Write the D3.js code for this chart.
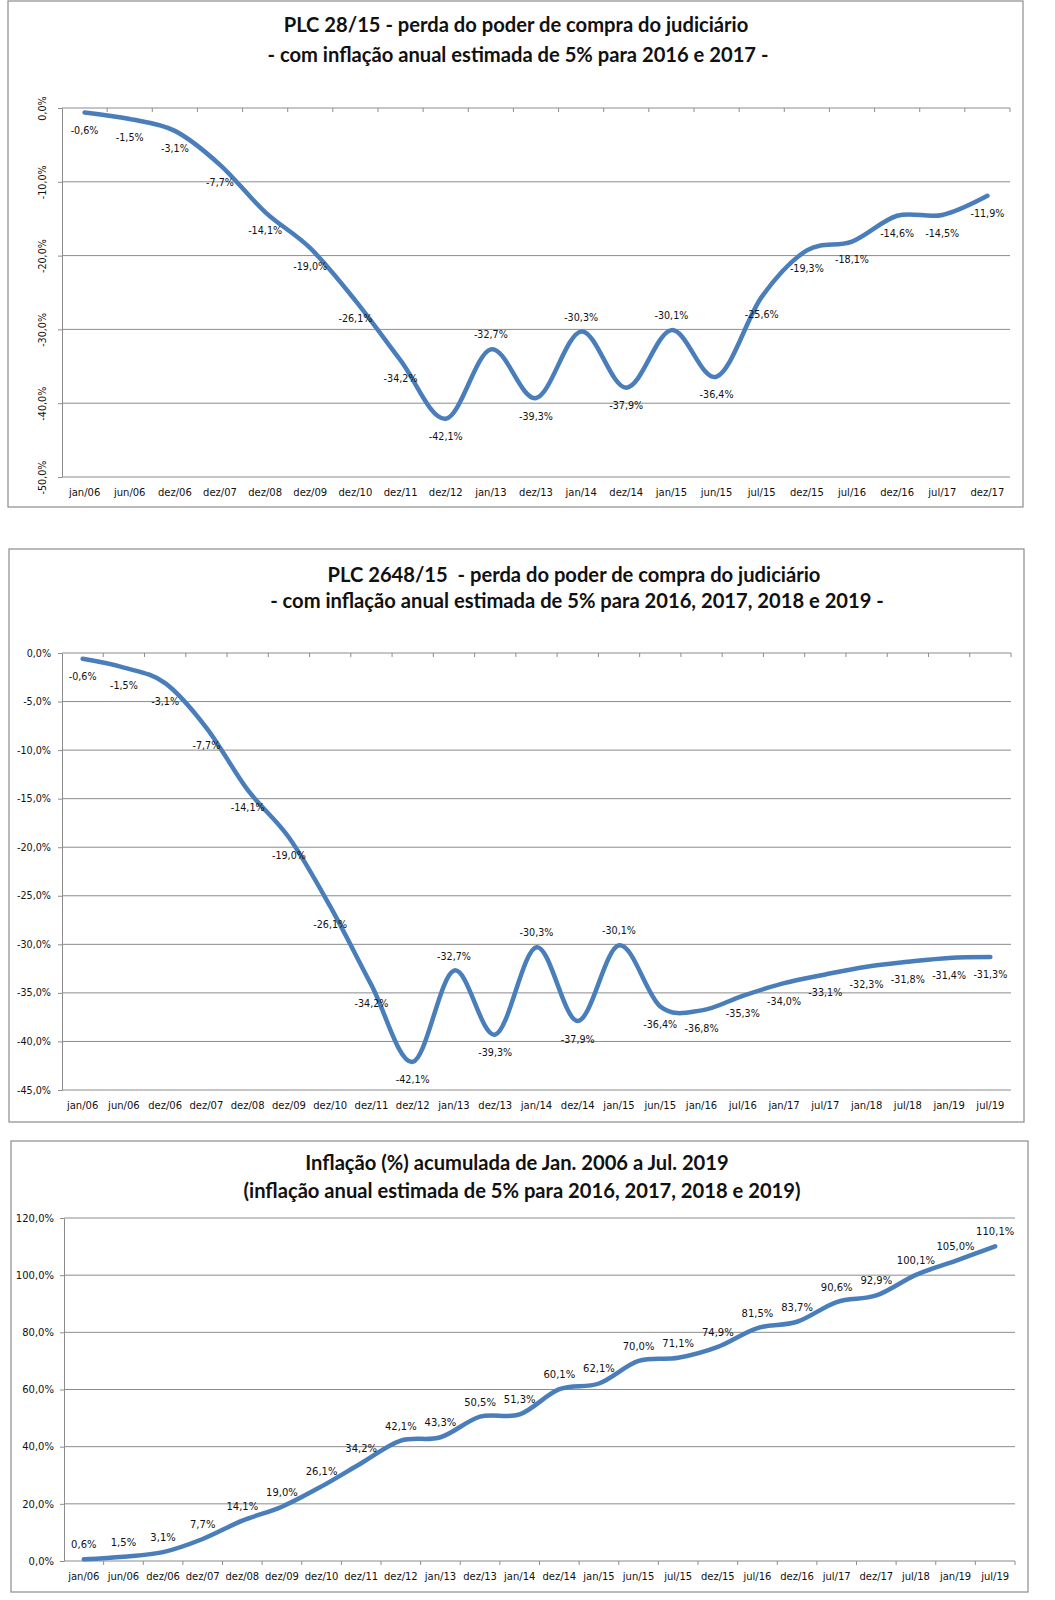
<!DOCTYPE html>
<html>
<head>
<meta charset="utf-8">
<script src="https://cdn.jsdelivr.net/npm/d3@7"></script>
<style>
  body { margin: 0; background: #fff; }
</style>
</head>
<body>
<svg id="chart" width="1055" height="1600"></svg>
<script>
// ---- data ----
const cats1 = ["jan/06","jun/06","dez/06","dez/07","dez/08","dez/09","dez/10","dez/11","dez/12","jan/13","dez/13",
  "jan/14","dez/14","jan/15","jun/15","jul/15","dez/15","jul/16","dez/16","jul/17","dez/17"];
const vals1 = [-0.6,-1.5,-3.1,-7.7,-14.1,-19.0,-26.1,-34.2,-42.1,-32.7,-39.3,-30.3,-37.9,-30.1,-36.4,-25.6,-19.3,-18.1,-14.6,-14.5,-11.9];
const ticks1 = [0,-10,-20,-30,-40,-50];
const title1 = ["PLC 28/15 - perda do poder de compra do judiciário",
  "- com inflação anual estimada de 5% para 2016 e 2017 -"];

const cats2 = ["jan/06","jun/06","dez/06","dez/07","dez/08","dez/09","dez/10","dez/11","dez/12","jan/13","dez/13",
  "jan/14","dez/14","jan/15","jun/15","jan/16","jul/16","jan/17","jul/17","jan/18","jul/18","jan/19","jul/19"];
const vals2 = [-0.6,-1.5,-3.1,-7.7,-14.1,-19.0,-26.1,-34.2,-42.1,-32.7,-39.3,-30.3,-37.9,-30.1,-36.4,-36.8,-35.3,-34.0,-33.1,-32.3,-31.8,-31.4,-31.3];
const ticks2 = [0,-5,-10,-15,-20,-25,-30,-35,-40,-45];
const title2 = ["PLC 2648/15  - perda do poder de compra do judiciário",
  "- com inflação anual estimada de 5% para 2016, 2017, 2018 e 2019 -"];

const cats3 = ["jan/06","jun/06","dez/06","dez/07","dez/08","dez/09","dez/10","dez/11","dez/12","jan/13","dez/13",
  "jan/14","dez/14","jan/15","jun/15","jul/15","dez/15","jul/16","dez/16","jul/17","dez/17","jul/18","jan/19","jul/19"];
const vals3 = [0.6,1.5,3.1,7.7,14.1,19.0,26.1,34.2,42.1,43.3,50.5,51.3,60.1,62.1,70.0,71.1,74.9,81.5,83.7,90.6,92.9,100.1,105.0,110.1];
const ticks3 = [0,20,40,60,80,100,120];
const title3 = ["Inflação (%) acumulada de Jan. 2006 a Jul. 2019",
  "(inflação anual estimada de 5% para 2016, 2017, 2018 e 2019)"];

// ---- setup ----
const br = d3.formatLocale({decimal: ",", thousands: ".", grouping: [3], currency: ["R$", ""], minus: "-"});
const pct = v => br.format(".1f")(v) + "%";

const svg = d3.select("#chart");
const lineColor = "#4a7ebb";
const gridColor = "#8c8c8c";
const textColor = "#111";
const smallFont = "DejaVu Sans";

// title font size, fitted so the first title has the reference width
const probe = svg.append("text").attr("font-family", "Lato").attr("font-weight", "bold")
  .attr("font-size", 100).text(title1[0]);
const titleSize = 100 * 465 / probe.node().getComputedTextLength();
probe.remove();

function drawChart(o) {
  const g = svg.append("g");

  g.append("rect")
    .attr("x", o.frame[0]).attr("y", o.frame[1])
    .attr("width", o.frame[2] - o.frame[0]).attr("height", o.frame[3] - o.frame[1])
    .attr("fill", "#fff").attr("stroke", gridColor).attr("stroke-width", 1.2);

  g.selectAll(".title")
    .data(o.title)
    .join("text")
    .attr("class", "title")
    .attr("x", (d, i) => o.titleX[i])
    .attr("y", (d, i) => o.titleY[i])
    .attr("text-anchor", "middle")
    .attr("font-family", "Lato")
    .attr("font-weight", "bold")
    .attr("font-size", titleSize)
    .attr("fill", "#111")
    .style("white-space", "pre")
    .text(d => d);

  const x = d3.scaleBand().domain(o.cats).range([o.left, o.right]);
  const y = d3.scaleLinear().domain(d3.extent(o.ticks)).range([o.bottom, o.top]);
  const cx = c => x(c) + x.bandwidth() / 2;

  // gridlines
  g.append("g").selectAll("line")
    .data(o.ticks)
    .join("line")
    .attr("x1", o.left).attr("x2", o.right)
    .attr("y1", d => y(d)).attr("y2", d => y(d))
    .attr("stroke", gridColor);

  // y axis
  const ya = g.append("g")
    .attr("transform", `translate(${o.left},0)`)
    .call(d3.axisLeft(y).tickValues(o.ticks).tickSize(4).tickSizeOuter(0).tickFormat(pct));
  ya.attr("font-family", smallFont);
  ya.select(".domain").attr("stroke", gridColor);
  ya.selectAll(".tick line").attr("stroke", gridColor);
  ya.selectAll(".tick text")
    .attr("font-family", smallFont)
    .attr("font-size", o.fs)
    .attr("fill", textColor);
  if (o.rotateY) {
    ya.selectAll(".tick text")
      .attr("transform", "rotate(-90)")
      .attr("x", 0).attr("y", -16).attr("dy", 0)
      .attr("text-anchor", "middle");
  } else {
    ya.selectAll(".tick text").attr("x", -o.yLabelGap);
  }

  // category axis boundary ticks
  const axisY = y(0);
  g.append("g").selectAll("line")
    .data(d3.range(1, o.cats.length + 1))
    .join("line")
    .attr("x1", i => o.left + i * x.step()).attr("x2", i => o.left + i * x.step())
    .attr("y1", axisY).attr("y2", axisY + 4)
    .attr("stroke", gridColor);

  // category labels (low position)
  const xa = g.append("g")
    .attr("transform", `translate(0,${o.bottom + 12})`)
    .call(d3.axisBottom(x).tickSize(0).tickPadding(0));
  xa.attr("font-family", smallFont);
  xa.select(".domain").remove();
  xa.selectAll(".tick text")
    .attr("font-family", smallFont)
    .attr("font-size", o.xfs)
    .attr("fill", textColor)
    .attr("dy", "0.71em");

  // series line
  const pts = o.cats.map((c, i) => [cx(c), y(o.vals[i])]);
  g.append("path")
    .datum(pts)
    .attr("d", d3.line().curve(d3.curveCardinal.tension(0)))
    .attr("fill", "none")
    .attr("stroke", lineColor)
    .attr("stroke-width", 4.5)
    .attr("stroke-linecap", "round")
    .attr("stroke-linejoin", "round");

  // data labels: above at local peaks (or always for chart 3), else below
  const above = i => o.allAbove ||
    (i > 0 && i < o.vals.length - 1 && o.vals[i] > o.vals[i - 1] && o.vals[i] > o.vals[i + 1]);
  g.append("g").selectAll("text")
    .data(o.vals)
    .join("text")
    .attr("x", (d, i) => pts[i][0])
    .attr("y", (d, i) => pts[i][1] + (above(i) ? -11 : 21.5))
    .attr("text-anchor", "middle")
    .attr("font-family", smallFont)
    .attr("font-size", o.fs)
    .attr("fill", textColor)
    .text(d => pct(d));
}

drawChart({
  cats: cats1, vals: vals1, ticks: ticks1, title: title1,
  frame: [8, 1, 1023, 507],
  titleX: [516, 518], titleY: [32, 62],
  left: 62, right: 1010, top: 108, bottom: 477,
  fs: 9.6, xfs: 10, rotateY: true
});

drawChart({
  cats: cats2, vals: vals2, ticks: ticks2, title: title2,
  frame: [9, 549, 1024, 1122],
  titleX: [574, 577], titleY: [582, 608],
  left: 62, right: 1011, top: 653, bottom: 1090,
  fs: 9.6, xfs: 10, yLabelGap: 11
});

drawChart({
  cats: cats3, vals: vals3, ticks: ticks3, title: title3,
  frame: [11, 1141, 1028, 1592],
  titleX: [517, 522], titleY: [1170, 1198],
  left: 64, right: 1015, top: 1218, bottom: 1561,
  fs: 10, xfs: 10, yLabelGap: 10, allAbove: true
});
</script>
</body>
</html>
